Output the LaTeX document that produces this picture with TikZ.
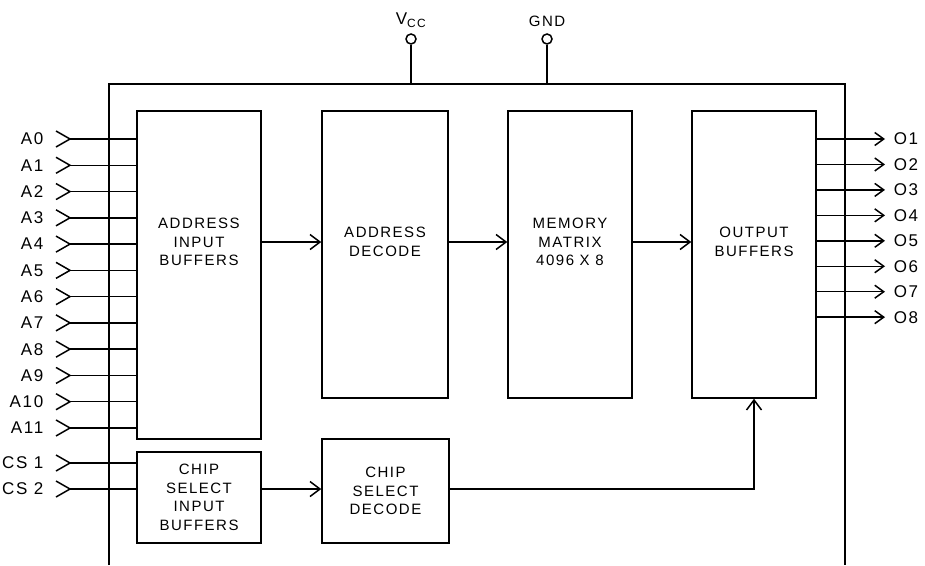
\documentclass[tikz,border=0pt]{standalone}
\usepackage{fontspec}
\setmainfont{Liberation Sans}[LetterSpace=10]
\usepackage{tikz}
\usetikzlibrary{positioning}
\usetikzlibrary{calc}
\usetikzlibrary{arrows.meta}

\begin{document}
\begin{tikzpicture}[
    x=1pt, y=-1pt,
    line width=1.5pt,
    >={Straight Barb[length=10pt,width=15pt]},
    blocco/.style={draw, line width=1.5pt, inner sep=0pt, align=center,
      font=\fontsize{15}{18.5}\selectfont},
    testo/.style={align=center, inner sep=0pt, font=\fontsize{15}{18.5}\selectfont},
    pin/.style={inner sep=0pt, font=\fontsize{17}{19}\selectfont},
    uscita/.style={->, >={Straight Barb[length=9pt,width=13pt]}}]
    \useasboundingbox (0,0) rectangle (925,565);

    % Contenitore del chip (aperto in basso)
    \coordinate (cl) at (109,84);
    \coordinate (cr) at (845,84);
    \draw (109,565) -- (cl) -- (cr) -- (845,565);

    % Alimentazione
    \node[circle, draw, minimum size=10pt, inner sep=0pt] (vcc) at (411,39) {};
    \node[circle, draw, minimum size=10pt, inner sep=0pt] (gnd) at (547,39) {};
    \node[pin] (lvcc) at (411,20) {V\textsubscript{CC}};
    \node[pin, font=\fontsize{15}{17}\selectfont] (lgnd) at (547,21) {GND};
    \draw (vcc) -- (vcc |- cr);
    \draw (gnd) -- (gnd |- cr);

    % Blocchi principali
    \coordinate (riga) at (0,242);
    \node[blocco, minimum width=124pt, minimum height=328pt] (adrin) at (199,275) {};
    \node[blocco, minimum width=126pt, minimum height=287pt] (addec) at (385,254.5) {};
    \node[blocco, minimum width=124pt, minimum height=287pt] (mem) at (570,254.5) {};
    \node[blocco, minimum width=124pt, minimum height=287pt] (outbuf) at (754,254.5) {};
    \node[testo] (tadrin) at (adrin.center |- riga) {ADDRESS\\INPUT\\BUFFERS};
    \node[testo] (taddec) at (addec.center |- riga) {ADDRESS\\DECODE};
    \node[testo] (tmem) at (mem.center |- riga) {MEMORY\\MATRIX\\4096 X 8};
    \node[testo] (toutbuf) at (outbuf.center |- riga) {OUTPUT\\BUFFERS};

    % Blocchi di chip select
    \node[blocco, minimum width=124pt, minimum height=91pt] (csin) at (199,497.5)
      {CHIP\\SELECT\\INPUT\\BUFFERS};
    \node[blocco, minimum width=127pt, minimum height=104pt] (csdec) at (385.5,491)
      {CHIP\\SELECT\\DECODE};

    % Frecce tra i blocchi
    \draw[->] (adrin.east |- riga) -- (addec.west |- riga);
    \draw[->] (addec.east |- riga) -- (mem.west |- riga);
    \draw[->] (mem.east |- riga) -- (outbuf.west |- riga);

    % Ingressi indirizzo
    \foreach \i in {0,...,11} {
      \coordinate (a\i) at (70,{139+26.27*\i});
      \draw (a\i) ++(-14,-8) -- (a\i) -- ++(-14,8);
      \node[pin, anchor=east] (la\i) at (44,{139+26.27*\i}) {A\i};
      \draw (a\i) -- (adrin.west |- a\i);
    }

    % Ingressi chip select
    \foreach \i/\y in {1/463,2/489} {
      \coordinate (cs\i) at (70,\y);
      \draw (cs\i) ++(-14,-8) -- (cs\i) -- ++(-14,8);
      \node[pin, anchor=east] (lcs\i) at (44,\y) {CS \i};
      \draw (cs\i) -- (csin.west |- cs\i);
    }
    \draw[->] (csin.east |- cs2) -- (csdec.west |- cs2);
    \draw[->] (csdec.east |- cs2) -| (outbuf.south);

    % Uscite
    \foreach \i in {1,...,8} {
      \coordinate (o\i) at (885,{139+25.45*(\i-1)});
      \draw[uscita] (outbuf.east |- o\i) -- (o\i);
      \node[pin, anchor=west] (lo\i) at (893,{139+25.45*(\i-1)}) {O\i};
    }
\end{tikzpicture}
\end{document}
